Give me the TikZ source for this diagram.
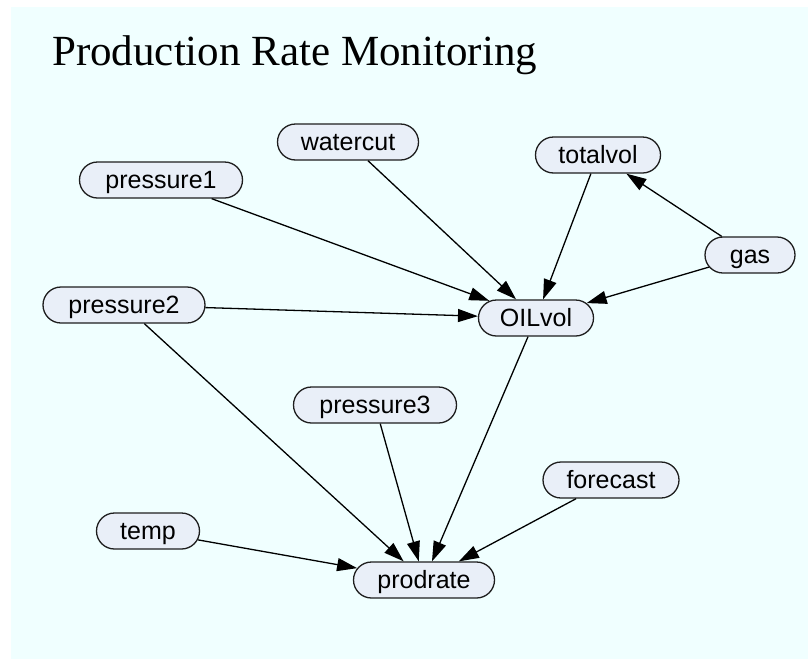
\documentclass[tikz,border=0pt]{standalone}
\usepackage{fontspec}
\setmainfont{Liberation Sans}
\newfontfamily\titlefont{Liberation Serif}
\usetikzlibrary{shapes.misc,arrows.meta}
\definecolor{bgcyan}{RGB}{240,255,255}
\definecolor{nodefill}{RGB}{233,239,248}
\definecolor{nodeline}{RGB}{30,30,30}
\begin{document}
\begin{tikzpicture}[x=1pt,y=-1pt,
  var/.style={rounded rectangle, draw=nodeline, fill=nodefill, line width=1.3pt,
    minimum height=36pt, inner sep=0pt, text height=17pt, text depth=0pt,
    font=\fontsize{25}{28}\selectfont},
  link/.style={draw=black, line width=1.3pt, -{Triangle[length=20pt,width=13pt]}}]
% canvas
\fill[white] (0,0) rectangle (808,659);
\fill[bgcyan] (11,7) rectangle (808,659);
\useasboundingbox (0,0) rectangle (808,659);
% title
\node[anchor=base west, inner sep=0pt, font=\titlefont\fontsize{43}{48}\selectfont] (title) at (52,65) {Production Rate Monitoring};
% variables
\node[var, minimum width=163pt] (p1) at (161,180) {pressure1};
\node[var, minimum width=141pt] (wc) at (348,142) {watercut};
\node[var, minimum width=125pt] (tv) at (598,155) {totalvol};
\node[var, minimum width=90pt]  (gas) at (750,255) {gas};
\node[var, minimum width=162pt] (p2) at (124,305) {pressure2};
\node[var, minimum width=115pt] (oil) at (536,318) {OILvol};
\node[var, minimum width=163pt] (p3) at (375,405) {pressure3};
\node[var, minimum width=136pt] (fc) at (611,480) {forecast};
\node[var, minimum width=103pt] (temp) at (148,531) {temp};
\node[var, minimum width=141pt] (pr) at (424,580) {prodrate};
% dependencies
\draw[link] (p1) -- (oil);
\draw[link] (wc) -- (oil);
\draw[link] (tv) -- (oil);
\draw[link] (gas) -- (oil);
\draw[link] (gas) -- (tv);
\draw[link] (p2) -- (oil);
\draw[link] (p2) -- (pr);
\draw[link] (oil) -- (pr);
\draw[link] (p3) -- (pr);
\draw[link] (fc) -- (pr);
\draw[link] (temp) -- (pr);
\end{tikzpicture}
\end{document}
